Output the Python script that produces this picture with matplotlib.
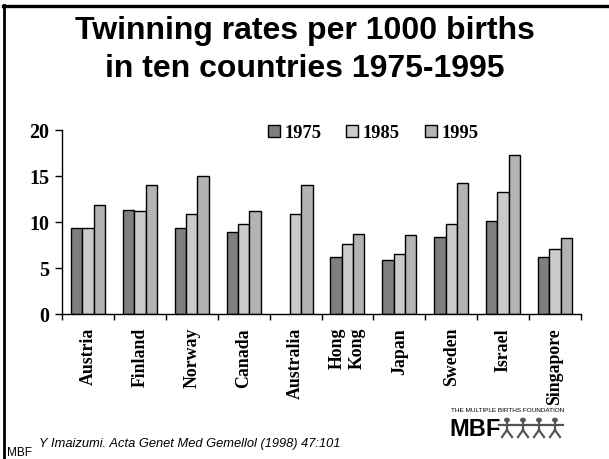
import matplotlib
matplotlib.use("Agg")
import matplotlib.pyplot as plt
import numpy as np
from matplotlib.lines import Line2D
from matplotlib.patches import Circle

countries = ["Austria", "Finland", "Norway", "Canada", "Australia",
             "Hong\nKong", "Japan", "Sweden", "Israel", "Singapore"]
years = ["1975", "1985", "1995"]
rate_1975 = [9.35, 11.3, 9.4, 8.9, np.nan, 6.2, 5.85, 8.35, 10.15, 6.2]
rate_1985 = [9.35, 11.15, 10.85, 9.75, 10.85, 7.6, 6.5, 9.8, 13.3, 7.1]
rate_1995 = [11.8, 14.05, 15.0, 11.15, 14.05, 8.65, 8.55, 14.2, 17.3, 8.25]
series = [rate_1975, rate_1985, rate_1995]
colors = ["#7f7f7f", "#cacaca", "#b3b3b3"]
yticks = [0, 5, 10, 15, 20]

W, H = 609, 459
fig = plt.figure(figsize=(W / 100, H / 100), dpi=100)
fig.patch.set_facecolor("white")

def fx(px):
    return px / W

def fy(py):
    return 1 - py / H

# slide border (top and left)
fig.add_artist(Line2D([fx(3), fx(609)], [fy(6), fy(6)], color="black", lw=2.4,
                      transform=fig.transFigure))
fig.add_artist(Line2D([fx(4.2), fx(4.2)], [fy(5), fy(459)], color="black", lw=2.0,
                      transform=fig.transFigure))

# title
fig.text(0.5, fy(31), "Twinning rates per 1000 births", ha="center", va="center",
         fontsize=23, fontweight="bold", family="Liberation Sans")
fig.text(0.5, fy(69), "in ten countries 1975-1995", ha="center", va="center",
         fontsize=23, fontweight="bold", family="Liberation Sans")

ax = fig.add_axes([fx(62), fy(314), fx(581) - fx(62), fy(130) - fy(314)])
x = np.arange(len(countries))
bw = 0.218
offsets = [-bw, 0, bw]
handles = []
for vals, c, off, yr in zip(series, colors, offsets, years):
    b = ax.bar(x + off, vals, width=bw, color=c, edgecolor="black", linewidth=1.0,
               label=yr)
    handles.append(b)

ax.set_xlim(-0.5, len(countries) - 0.5)
ax.set_ylim(0, 20)
ax.set_yticks(yticks)
ax.set_yticklabels([str(t) for t in yticks], fontsize=14.4, fontweight="bold",
                   family="Liberation Serif")
ax.set_xticks(x)
ax.set_xticklabels(countries, rotation=90, fontsize=12.8, fontweight="bold",
                   family="Liberation Serif", va="top", ha="center",
                   multialignment="right")
ax.set_xticks(np.arange(-0.5, len(countries)), minor=True)
ax.tick_params(axis="x", which="major", length=0, pad=10)
ax.tick_params(axis="x", which="minor", length=4, width=1, direction="out")
ax.tick_params(axis="y", length=5, width=1, direction="out", pad=4)
for s in ["top", "right"]:
    ax.spines[s].set_visible(False)
for s in ["left", "bottom"]:
    ax.spines[s].set_linewidth(1.0)

leg = fig.legend(handles=handles, labels=years, loc="center",
                 bbox_to_anchor=(fx(373), fy(133)), ncol=3, frameon=False,
                 prop={"family": "Liberation Serif", "weight": "bold", "size": 13.3},
                 handlelength=0.65, handleheight=0.65, handletextpad=0.25,
                 columnspacing=1.35)

# citation
fig.text(fx(39), fy(447), "Y Imaizumi. Acta Genet Med Gemellol (1998) 47:101",
         ha="left", va="baseline", fontsize=9.3, style="italic",
         family="Liberation Sans")
fig.text(fx(7), fy(456.5), "MBF", ha="left", va="baseline", fontsize=8.5,
         family="Liberation Sans")

# logo
fig.text(fx(508), fy(410), "THE MULTIPLE BIRTHS FOUNDATION", ha="center",
         va="center", fontsize=4.6, family="Liberation Sans")
fig.text(fx(449), fy(436), "MBF", ha="left", va="baseline", fontsize=17,
         fontweight="bold", family="Liberation Sans")
for i in range(4):
    cx = 507 + i * 16
    head = Circle((fx(cx), fy(420)), radius=fx(2.2), transform=fig.transFigure,
                  color="#555555")
    fig.add_artist(head)
    segs = [([cx, cx], [423, 430]),
            ([cx - 8, cx + 8], [425, 425]),
            ([cx, cx - 5], [430, 437]),
            ([cx, cx + 5], [430, 437])]
    for xs, ys in segs:
        fig.add_artist(Line2D([fx(v) for v in xs], [fy(v) for v in ys],
                              color="#555555", lw=1.6, transform=fig.transFigure))

fig.savefig("out.png", dpi=100, facecolor="white")
